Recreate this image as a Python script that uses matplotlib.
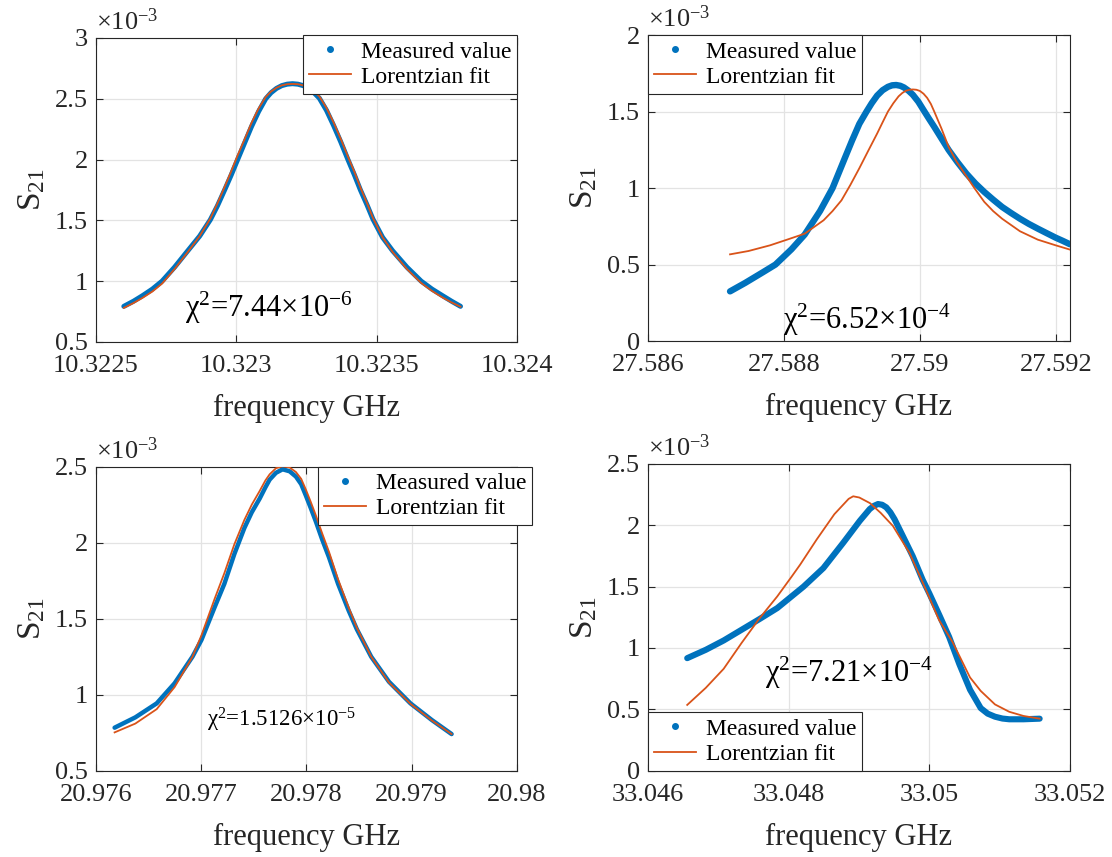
import matplotlib
matplotlib.use("Agg")
import matplotlib.pyplot as plt
from matplotlib.lines import Line2D
from matplotlib.ticker import FuncFormatter

plt.rcParams["font.family"] = ["Liberation Serif", "DejaVu Serif"]
plt.rcParams["mathtext.fontset"] = "custom"
plt.rcParams["mathtext.rm"] = "Liberation Serif"
plt.rcParams["mathtext.it"] = "Liberation Serif:italic"

BLUE = "#0072BD"
ORANGE = "#D95319"

# ---- panel 1 : 10.323 GHz (S21 in units of 1e-3)
freq_1 = [10.3225993, 10.3226337, 10.3226655, 10.3227012, 10.3227356, 10.3227801,
          10.3228272, 10.3228693, 10.3229075, 10.3229329, 10.3229584, 10.3229813,
          10.3230030, 10.3230284, 10.3230539, 10.3230794, 10.3231048, 10.3231239,
          10.3231430, 10.3231621, 10.3231812, 10.3232003, 10.3232194, 10.3232385,
          10.3232576, 10.3232767, 10.3232958, 10.3233213, 10.3233467, 10.3233722,
          10.3233977, 10.3234206, 10.3234422, 10.3234652, 10.3234868, 10.3235212,
          10.3235568, 10.3236078, 10.3236587, 10.3236969, 10.3237351, 10.3237669,
          10.3237988]
meas_1 = [0.793, 0.835, 0.88, 0.935, 1.0, 1.115, 1.25, 1.37, 1.505, 1.62, 1.75, 1.87, 1.99,
          2.13, 2.27, 2.395, 2.5, 2.55, 2.585, 2.608, 2.62, 2.624, 2.62, 2.608, 2.585, 2.55,
          2.505, 2.405, 2.28, 2.145, 2.0, 1.875, 1.75, 1.63, 1.51, 1.36, 1.25, 1.115, 1.0,
          0.935, 0.88, 0.835, 0.793]
fit_1 = [0.78, 0.82, 0.862, 0.915, 0.98, 1.10, 1.24, 1.37, 1.515, 1.64, 1.775, 1.90, 2.025,
         2.16, 2.30, 2.42, 2.515, 2.56, 2.59, 2.61, 2.62, 2.622, 2.62, 2.61, 2.59, 2.56, 2.52,
         2.425, 2.305, 2.17, 2.025, 1.90, 1.77, 1.645, 1.52, 1.36, 1.24, 1.10, 0.985, 0.92,
         0.865, 0.825, 0.79]

# ---- panel 2 : 27.59 GHz
freq_2m = [27.587207, 27.587428, 27.587690, 27.587874, 27.588110, 27.588304, 27.588530,
           27.588714, 27.588898, 27.589000, 27.589108, 27.589213, 27.589290, 27.589370,
           27.589450, 27.589528, 27.589590, 27.589650, 27.589710, 27.589764, 27.589830,
           27.589895, 27.589975, 27.590052, 27.590130, 27.590210, 27.590315, 27.590420,
           27.590550, 27.590682, 27.590815, 27.590945, 27.591075, 27.591207, 27.591340,
           27.591470, 27.591600, 27.591732, 27.591865, 27.591995, 27.592100, 27.592205]
meas_2 = [0.325, 0.38, 0.45, 0.50, 0.60, 0.696, 0.85, 1.00, 1.20, 1.31, 1.42, 1.50, 1.555,
          1.605, 1.64, 1.662, 1.672, 1.674, 1.669, 1.658, 1.637, 1.61, 1.565, 1.51, 1.455,
          1.40, 1.325, 1.25, 1.17, 1.095, 1.03, 0.975, 0.925, 0.877, 0.837, 0.80, 0.766,
          0.735, 0.705, 0.676, 0.655, 0.633]
freq_2f = [27.587207, 27.587480, 27.587795, 27.588058, 27.588304, 27.588583, 27.588714,
           27.588845, 27.588975, 27.589108, 27.589240, 27.589370, 27.589450, 27.589528,
           27.589608, 27.589685, 27.589740, 27.589790, 27.589845, 27.589895, 27.589947,
           27.589999, 27.590052, 27.590105, 27.590160, 27.590210, 27.590315, 27.590420,
           27.590535, 27.590656, 27.590800, 27.590945, 27.591075, 27.591207, 27.591470,
           27.591732, 27.591995, 27.592205]
fit_2 = [0.567, 0.589, 0.626, 0.665, 0.702, 0.79, 0.85, 0.92, 1.02, 1.13, 1.245, 1.357,
         1.43, 1.50, 1.555, 1.60, 1.622, 1.636, 1.643, 1.645, 1.643, 1.635, 1.617, 1.59,
         1.55, 1.50, 1.39, 1.27, 1.175, 1.095, 1.0, 0.91, 0.85, 0.80, 0.718, 0.663, 0.626,
         0.598]

# ---- panel 3 : 20.978 GHz
freq_3 = [20.976177, 20.976374, 20.976577, 20.976747, 20.976917, 20.977002, 20.977127,
          20.977220, 20.977315, 20.977410, 20.977480, 20.977555, 20.977610, 20.977650,
          20.977710, 20.977773, 20.977840, 20.977900, 20.977950, 20.977994, 20.978040,
          20.978089, 20.978150, 20.978214, 20.978300, 20.978400, 20.978479, 20.978615,
          20.978784, 20.978988, 20.979192, 20.979379]
meas_3 = [0.783, 0.851, 0.943, 1.075, 1.25, 1.36, 1.575, 1.73, 1.926, 2.097, 2.2, 2.29,
          2.365, 2.415, 2.46, 2.483, 2.47, 2.435, 2.385, 2.311, 2.23, 2.14, 2.02, 1.904,
          1.73, 1.555, 1.43, 1.25, 1.085, 0.943, 0.833, 0.741]
fit_3 = [0.752, 0.81, 0.905, 1.05, 1.25, 1.39, 1.63, 1.80, 1.99, 2.15, 2.25, 2.34, 2.41,
         2.45, 2.49, 2.503, 2.495, 2.465, 2.42, 2.35, 2.27, 2.18, 2.06, 1.94, 1.76, 1.575,
         1.44, 1.25, 1.08, 0.94, 0.83, 0.741]

# ---- panel 4 : 33.049 GHz
freq_4m = [33.046558, 33.046822, 33.047076, 33.047330, 33.047584, 33.047838, 33.048041,
           33.048212, 33.048494, 33.048776, 33.049012, 33.049153, 33.049212, 33.049271,
           33.049330, 33.049388, 33.049447, 33.049506, 33.049624, 33.049765, 33.049906,
           33.050000, 33.050141, 33.050282, 33.050426, 33.050579, 33.050731, 33.050830,
           33.050934, 33.051040, 33.051137, 33.051340, 33.051569]
meas_4 = [0.917, 0.985, 1.061, 1.148, 1.235, 1.325, 1.42, 1.50, 1.651, 1.857, 2.036, 2.132,
          2.158, 2.173, 2.167, 2.146, 2.105, 2.049, 1.912, 1.747, 1.555, 1.445, 1.27, 1.09,
          0.87, 0.66, 0.51, 0.465, 0.44, 0.425, 0.419, 0.419, 0.424]
freq_4f = [33.046558, 33.046822, 33.047076, 33.047330, 33.047584, 33.047838, 33.048041,
           33.048165, 33.048400, 33.048650, 33.048853, 33.048918, 33.049005, 33.049157,
           33.049310, 33.049482, 33.049718, 33.049953, 33.050141, 33.050329, 33.050579,
           33.050731, 33.050934, 33.051137, 33.051340, 33.051569]
fit_4 = [0.536, 0.675, 0.83, 1.04, 1.24, 1.42, 1.58, 1.68, 1.885, 2.09, 2.215, 2.236, 2.226,
         2.18, 2.10, 1.995, 1.775, 1.473, 1.225, 1.05, 0.76, 0.65, 0.54, 0.48, 0.446, 0.424]

chi_labels = [r"χ$^{2}$=7.44×10$^{-6}$", r"χ$^{2}$=6.52×10$^{-4}$",
              r"χ$^{2}$=1.5126×10$^{-5}$", r"χ$^{2}$=7.21×10$^{-4}$"]


def fmt(v, pos):
    return "{:g}".format(round(v, 6))


def draw_panel(ax, fm, sm, ff, sf, xlim, ylim, xticks, yticks, chi, chi_xy, chi_size,
               leg_loc, leg_anchor, meas_lw):
    ax.plot(fm, sm, color=BLUE, lw=meas_lw, solid_capstyle="round", zorder=3)
    ax.plot(ff, sf, color=ORANGE, lw=1.3, zorder=4)
    ax.set_xlim(*xlim)
    ax.set_ylim(*ylim)
    ax.set_xticks(xticks)
    ax.set_yticks(yticks)
    ax.xaxis.set_major_formatter(FuncFormatter(fmt))
    ax.yaxis.set_major_formatter(FuncFormatter(fmt))
    ax.grid(True, color="#e3e3e3", lw=0.9, zorder=0)
    ax.set_axisbelow(True)
    ax.tick_params(direction="in", length=5, width=0.8, top=True, right=True,
                   labelsize=19, colors="#262626")
    ax.tick_params(axis="x", pad=9.5)
    ax.tick_params(axis="y", pad=6)
    for s in ax.spines.values():
        s.set_color("#262626")
        s.set_linewidth(0.8)
    ax.set_xlabel("frequency GHz", fontsize=22, labelpad=12, color="#262626")
    ax.set_ylabel("S$_{21}$", fontsize=24, labelpad=5, color="#262626")
    ax.text(0.0, 1.01, r"×10$^{-3}$", transform=ax.transAxes, ha="left", va="bottom",
            fontsize=19, color="#262626")
    ax.text(chi_xy[0], chi_xy[1], chi, transform=ax.transAxes, ha="center",
            va="baseline", fontsize=chi_size, color="black")
    handles = [Line2D([], [], color=BLUE, marker=".", ls="none", markersize=8),
               Line2D([], [], color=ORANGE, lw=1.3)]
    leg = ax.legend(handles, ["Measured value", "Lorentzian fit"], loc=leg_loc,
                    bbox_to_anchor=leg_anchor, borderaxespad=0, fontsize=17,
                    fancybox=False, framealpha=1, edgecolor="#262626",
                    handlelength=1.8, handletextpad=0.4, borderpad=0.25,
                    labelspacing=0.15)
    leg.get_frame().set_linewidth(0.8)
    leg.set_zorder(10)


fig = plt.figure(figsize=(11.12, 8.57), dpi=100)
ax1 = fig.add_axes([0.0863, 0.601, 0.3786, 0.3547])
ax2 = fig.add_axes([0.5827, 0.602, 0.3795, 0.357])
ax3 = fig.add_axes([0.0863, 0.1007, 0.3786, 0.3547])
ax4 = fig.add_axes([0.5827, 0.1007, 0.3795, 0.358])

draw_panel(ax1, freq_1, meas_1, freq_1, fit_1, (10.3225, 10.324), (0.5, 3.0),
           [10.3225, 10.323, 10.3235, 10.324], [0.5, 1, 1.5, 2, 2.5, 3],
           chi_labels[0], (0.41, 0.082), 22, "upper right", (1.0, 1.009), 3.6)
draw_panel(ax2, freq_2m, meas_2, freq_2f, fit_2, (27.586, freq_2m[-1]), (0.0, 2.0),
           [27.586, 27.588, 27.59, 27.592], [0, 0.5, 1, 1.5, 2],
           chi_labels[1], (0.52, 0.04), 22, "upper left", (0.0, 1.0), 4.6)
draw_panel(ax3, freq_3, meas_3, freq_3, fit_3, (20.976, 20.98), (0.5, 2.5),
           [20.976, 20.977, 20.978, 20.979, 20.98], [0.5, 1, 1.5, 2, 2.5],
           chi_labels[2], (0.44, 0.145), 16.5, "upper right", (1.036, 1.0), 3.2)
draw_panel(ax4, freq_4m, meas_4, freq_4f, fit_4, (33.046, 33.052), (0.0, 2.5),
           [33.046, 33.048, 33.05, 33.052], [0, 0.5, 1, 1.5, 2, 2.5],
           chi_labels[3], (0.477, 0.29), 22, "lower left", (0.0, 0.0), 4.4)

fig.savefig("out.png", dpi=100)
